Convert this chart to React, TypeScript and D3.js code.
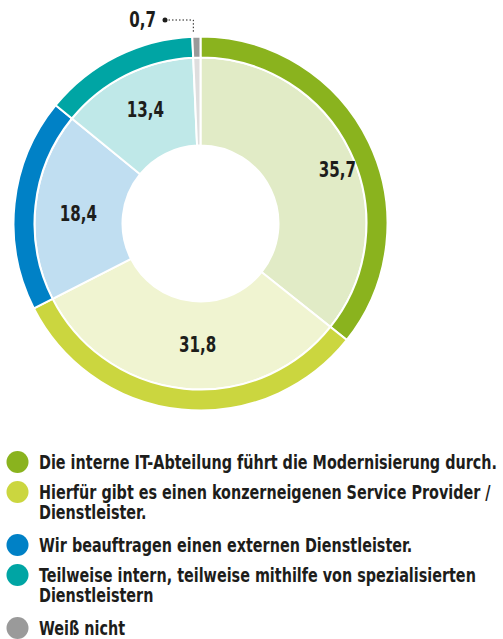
import React, { useLayoutEffect, useRef, useState } from "react";
import * as d3 from "d3";

const categories = [
  "Die interne IT-Abteilung führt die Modernisierung durch.",
  "Hierfür gibt es einen konzerneigenen Service Provider / Dienstleister.",
  "Wir beauftragen einen externen Dienstleister.",
  "Teilweise intern, teilweise mithilfe von spezialisierten Dienstleistern",
  "Weiß nicht",
];
const values = [35.7, 31.8, 18.4, 13.4, 0.7];
const valueLabels = ["35,7", "31,8", "18,4", "13,4", "0,7"];
const legendLines = [
  ["Die interne IT-Abteilung führt die Modernisierung durch."],
  ["Hierfür gibt es einen konzerneigenen Service Provider /", "Dienstleister."],
  ["Wir beauftragen einen externen Dienstleister."],
  ["Teilweise intern, teilweise mithilfe von spezialisierten", "Dienstleistern"],
  ["Weiß nicht"],
];
const ringColors = ["#8ab31e", "#cbd63f", "#0081c6", "#00a5a4", "#9a9a9a"];
const fillColors = ["#e1ebc6", "#f0f4d1", "#c0def1", "#bfe8e8", "#dedede"];

// label placement (polar: radius, angle in degrees from top, clockwise)
const labelPolar: [number, number][] = [
  [147, 68.5],
  [121, 181.4],
  [122.5, 275],
  [126.6, 334.2],
];

const FONT = "'DejaVu Sans Condensed', 'Liberation Sans Narrow', sans-serif";
const TARGET_LINE1 = 458;

export default function App() {
  const W = 503, H = 639;
  const cx = 200.5, cy = 223.5;
  const rOuter = 187, rRing = 166, rInner = 78;
  const measureRef = useRef<SVGTextElement>(null);
  const [sx, setSx] = useState(0.85);

  useLayoutEffect(() => {
    if (measureRef.current) {
      const L = measureRef.current.getComputedTextLength();
      if (L > 0) setSx(TARGET_LINE1 / L);
    }
  }, []);

  const pie = d3.pie<number>().sort(null).value((d) => d);
  const arcs = pie(values);
  const ringArc = d3.arc<d3.PieArcDatum<number>>().innerRadius(rRing).outerRadius(rOuter);
  const fillArc = d3.arc<d3.PieArcDatum<number>>().innerRadius(rInner).outerRadius(rRing);

  const last = arcs[4];
  const mid = (last.startAngle + last.endAngle) / 2;
  const lx = cx + 190 * Math.sin(mid) - 3;
  const dotX = 165, dotY = 20;

  const rowY = [462, 492, 545, 575, 628];

  return (
    <svg width={W} height={H} style={{ position: "absolute", left: 0, top: 0, background: "#fff" }}>
      <g transform={`translate(${cx},${cy})`}>
        {arcs.map((a, i) => (
          <g key={i}>
            <path d={fillArc(a) || ""} fill={fillColors[i]} stroke="#fff" strokeWidth={2} />
            <path d={ringArc(a) || ""} fill={ringColors[i]} stroke="#fff" strokeWidth={2} />
          </g>
        ))}
        <circle r={rInner} fill="#fff" />
        {labelPolar.map(([r, ang], i) => {
          const t = (ang * Math.PI) / 180;
          return (
            <text
              key={i}
              transform={`translate(${r * Math.sin(t)},${-r * Math.cos(t)}) scale(${sx},1)`}
              textAnchor="middle"
              dominantBaseline="central"
              fontFamily={FONT}
              fontWeight="bold"
              fontSize={21}
              fill="#1d1d1b"
            >
              {valueLabels[i]}
            </text>
          );
        })}
      </g>
      <path
        d={`M${dotX},${dotY} H${lx} V${cy - rOuter - 3}`}
        fill="none"
        stroke="#1d1d1b"
        strokeWidth={1}
        strokeDasharray="1.5,2"
      />
      <circle cx={dotX} cy={dotY} r={2.5} fill="#1d1d1b" />
      <text
        transform={`translate(156,27) scale(${sx},1)`}
        textAnchor="end"
        fontFamily={FONT}
        fontWeight="bold"
        fontSize={21}
        fill="#1d1d1b"
      >
        {valueLabels[4]}
      </text>
      {rowY.map((y, i) => (
        <g key={i}>
          <circle cx={17.5} cy={y} r={11} fill={ringColors[i]} />
          <g transform={`translate(39,0) scale(${sx},1)`}>
            {legendLines[i].map((line, j) => (
              <text
                key={j}
                ref={i === 0 && j === 0 ? measureRef : undefined}
                x={0}
                y={y + 7 + j * 20}
                fontFamily={FONT}
                fontWeight={600}
                fontSize={20}
                fill="#1d1d1b"
              >
                {line}
              </text>
            ))}
          </g>
        </g>
      ))}
    </svg>
  );
}
